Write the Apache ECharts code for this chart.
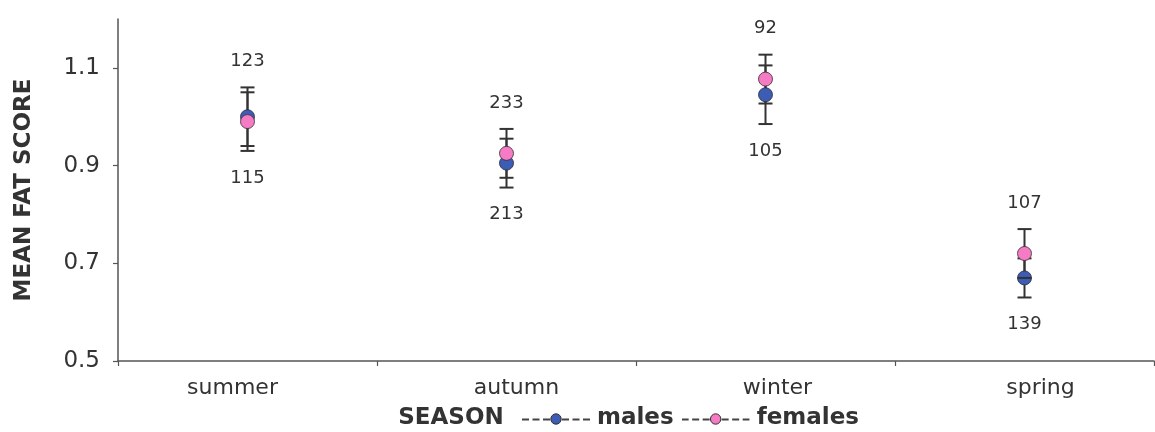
<!DOCTYPE html>
<html>
<head>
<meta charset="utf-8">
<title>Mean fat score by season</title>
<script src="https://cdn.jsdelivr.net/npm/echarts@6/dist/echarts.min.js"></script>
<style>
  html, body { margin: 0; padding: 0; background: #ffffff; }
  #chart { width: 1155px; height: 432px; }
</style>
</head>
<body>
<div id="chart"></div>
<script>
// Seasons on the x axis
const categories = ['summer', 'autumn', 'winter', 'spring'];
// Mean fat score and half-width of the error bar, per sex
const malesMean = [1.00, 0.905, 1.045, 0.67];
const malesErr = [0.06, 0.05, 0.06, 0.04];
const femalesMean = [0.99, 0.925, 1.077, 0.72];
const femalesErr = [0.06, 0.05, 0.05, 0.05];
// Sample sizes printed above / below each season
const femalesN = [123, 233, 92, 107];
const malesN = [115, 213, 105, 139];
// Y axis tick values
const yTicks = [0.5, 0.7, 0.9, 1.1];

const MALE_COLOR = '#3d5db5';
const FEMALE_COLOR = '#f57cc4';
const INK = '#333333';
const FONT = 'DejaVu Sans';

const chart = echarts.init(document.getElementById('chart'), null, { renderer: 'canvas' });

// per-season horizontal nudge of the x tick labels
const labelShift = [-15, 10, 12, 16];
const rich = {};
labelShift.forEach((d, i) => {
  rich['c' + i] = {
    fontFamily: FONT, fontSize: 22, color: INK,
    padding: d >= 0 ? [0, 0, 0, 2 * d] : [0, -2 * d, 0, 0]
  };
});

function stemData(mean, err) {
  return mean.map((m, i) => [i, m - err[i], m + err[i]]);
}

function renderStem(params, api) {
  const lo = api.coord([api.value(0), api.value(1)]);
  const hi = api.coord([api.value(0), api.value(2)]);
  return {
    type: 'line',
    shape: { x1: lo[0], y1: lo[1], x2: hi[0], y2: hi[1] },
    style: { stroke: INK, lineWidth: 2 }
  };
}

function renderCaps(params, api) {
  const lo = api.coord([api.value(0), api.value(1)]);
  const hi = api.coord([api.value(0), api.value(2)]);
  const w = 7;
  return {
    type: 'group',
    children: [
      { type: 'line', shape: { x1: lo[0] - w, y1: lo[1], x2: lo[0] + w, y2: lo[1] }, style: { stroke: INK, lineWidth: 2 } },
      { type: 'line', shape: { x1: hi[0] - w, y1: hi[1], x2: hi[0] + w, y2: hi[1] }, style: { stroke: INK, lineWidth: 2 } }
    ]
  };
}

// count labels sit just outside the outermost error bar end of each season
const upperEnd = categories.map((_, i) => Math.max(malesMean[i] + malesErr[i], femalesMean[i] + femalesErr[i]));
const lowerEnd = categories.map((_, i) => Math.min(malesMean[i] - malesErr[i], femalesMean[i] - femalesErr[i]));

function countLabel(offset) {
  return function (params, api) {
    const p = api.coord([api.value(0), api.value(1)]);
    return {
      type: 'text',
      x: p[0], y: p[1] + offset,
      style: {
        text: String(api.value(2)),
        fontFamily: FONT, fontSize: 18, fill: INK,
        align: 'center', verticalAlign: 'middle'
      }
    };
  };
}

function legendIcon(color) {
  const dash = (x) => `<line x1="${x}" y1="8" x2="${x + 7}" y2="8" stroke="#444" stroke-width="2.2"/>`;
  const svg = `<svg xmlns="http://www.w3.org/2000/svg" width="68" height="14" viewBox="0 0 68 14">` +
    dash(0) + dash(10.5) + dash(21) +
    `<circle cx="34" cy="7.5" r="5.2" fill="${color}" stroke="#333" stroke-width="1"/>` +
    dash(40) + dash(50.5) + dash(61) + `</svg>`;
  return 'image://data:image/svg+xml;charset=utf-8,' + encodeURIComponent(svg);
}

const option = {
  backgroundColor: '#ffffff',
  animation: false,
  textStyle: { fontFamily: FONT, color: INK },
  grid: { left: 118, right: 1, top: 19, bottom: 71, containLabel: false, outerBoundsMode: 'none' },
  legend: {
    left: 517, top: 402,
    itemWidth: 68, itemHeight: 14, itemGap: 8,
    textStyle: { fontFamily: FONT, fontSize: 23, fontWeight: 'bold', color: INK, padding: [0, 0, 0, 2] },
    data: [
      { name: 'males', icon: legendIcon(MALE_COLOR) },
      { name: 'females', icon: legendIcon(FEMALE_COLOR) }
    ],
    selectedMode: false
  },
  xAxis: {
    type: 'category',
    data: categories,
    boundaryGap: true,
    name: 'SEASON',
    nameLocation: 'middle',
    nameGap: 46,
    nameTextStyle: { fontFamily: FONT, fontSize: 23, fontWeight: 'bold', color: INK, padding: [0, 370, 0, 0] },
    axisLine: { lineStyle: { color: '#555', width: 1.5 } },
    axisTick: { show: true, length: 5, lineStyle: { color: '#555', width: 1.2 } },
    axisLabel: {
      margin: 16,
      formatter: (v, i) => `{c${i}|${v}}`,
      rich: rich
    },
    splitLine: { show: false }
  },
  yAxis: {
    type: 'value',
    min: 0.5, max: 1.2,
    name: 'MEAN FAT SCORE',
    nameLocation: 'middle',
    nameRotate: 90,
    nameGap: 82,
    nameTextStyle: { fontFamily: FONT, fontSize: 23, fontWeight: 'bold', color: INK },
    axisLine: { show: true, lineStyle: { color: '#555', width: 1.5 } },
    axisTick: { show: true, length: 5, customValues: yTicks, lineStyle: { color: '#555', width: 1.2 } },
    axisLabel: {
      customValues: yTicks,
      margin: 18,
      fontFamily: FONT, fontSize: 23, color: INK,
      formatter: (v) => v.toFixed(1)
    },
    splitLine: { show: false }
  },
  series: [
    {
      type: 'custom', name: 'stems', z: 1, silent: true,
      renderItem: renderStem,
      data: stemData(malesMean, malesErr).concat(stemData(femalesMean, femalesErr))
    },
    {
      type: 'custom', name: 'males caps', z: 2, silent: true,
      renderItem: renderCaps,
      data: stemData(malesMean, malesErr)
    },
    {
      type: 'scatter', name: 'males', z: 3,
      symbol: 'circle', symbolSize: 14,
      itemStyle: { color: MALE_COLOR, borderColor: '#2a2a3a', borderWidth: 0.8, opacity: 1 },
      data: malesMean.map((m, i) => [i, m])
    },
    {
      type: 'custom', name: 'females caps', z: 4, silent: true,
      renderItem: renderCaps,
      data: stemData(femalesMean, femalesErr)
    },
    {
      type: 'scatter', name: 'females', z: 5,
      symbol: 'circle', symbolSize: 14,
      itemStyle: { color: FEMALE_COLOR, borderColor: '#3a2a33', borderWidth: 0.8, opacity: 1 },
      data: femalesMean.map((m, i) => [i, m])
    },
    {
      type: 'custom', name: 'n above', z: 6, silent: true,
      renderItem: countLabel(-26),
      data: upperEnd.map((v, i) => [i, v, femalesN[i]])
    },
    {
      type: 'custom', name: 'n below', z: 6, silent: true,
      renderItem: countLabel(27),
      data: lowerEnd.map((v, i) => [i, v, malesN[i]])
    }
  ]
};

chart.setOption(option);
</script>
</body>
</html>
